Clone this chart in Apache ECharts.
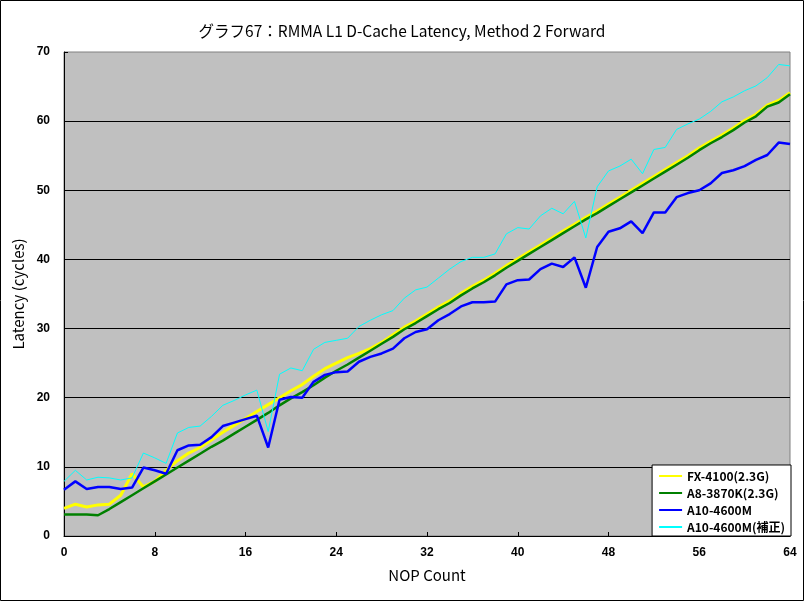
<!DOCTYPE html>
<html>
<head>
<meta charset="utf-8">
<script src="https://cdn.jsdelivr.net/npm/echarts@6/dist/echarts.min.js"></script>
<style>
html,body{margin:0;padding:0;background:#fff;}
#c{width:804px;height:601px;}
</style>
</head>
<body>
<div id="c"></div>
<script>
var titleText = 'グラフ67：RMMA L1 D-Cache Latency, Method 2 Forward';
var xName = 'NOP Count';
var yName = 'Latency (cycles)';
var seriesNames = ['FX-4100(2.3G)', 'A8-3870K(2.3G)', 'A10-4600M', 'A10-4600M(補正)'];
var categories = [];
for (var k = 0; k <= 64; k++) categories.push(String(k));

var fx4100 = [4.0,4.6,4.2,4.5,4.6,5.9,9.0,7.1,7.9,9.5,10.9,12.0,12.8,13.9,15.0,16.0,17.0,18.0,19.0,20.0,21.0,21.9,23.1,24.2,25.0,25.8,26.4,27.1,28.0,29.1,30.2,31.1,32.1,33.1,34.0,35.1,36.1,37.0,38.0,39.1,40.1,41.1,42.1,43.1,44.1,45.1,46.1,47.0,48.0,49.0,50.0,51.0,52.0,53.0,54.0,55.0,56.1,57.1,58.0,59.0,60.1,61.0,62.3,63.0,64.1];
var a83870k = [3.1,3.1,3.1,3.0,3.9,4.9,5.9,6.9,7.9,8.9,9.9,10.9,11.9,12.9,13.8,14.8,15.8,16.8,17.8,18.9,19.9,20.8,21.8,22.9,23.9,24.8,25.8,26.8,27.8,28.8,29.9,30.8,31.8,32.8,33.7,34.8,35.8,36.7,37.7,38.8,39.8,40.8,41.8,42.8,43.8,44.8,45.8,46.7,47.7,48.7,49.7,50.7,51.7,52.7,53.7,54.7,55.8,56.8,57.7,58.7,59.8,60.7,62.1,62.7,63.9];
var a104600m = [6.7,7.9,6.8,7.1,7.1,6.8,7.0,9.9,9.5,9.0,12.4,13.1,13.2,14.3,15.9,16.4,16.9,17.4,12.8,19.7,20.1,20.0,22.3,23.3,23.7,23.8,25.2,25.9,26.4,27.1,28.6,29.5,29.9,31.2,32.1,33.2,33.8,33.8,33.9,36.4,37.0,37.1,38.6,39.4,38.9,40.3,35.9,41.8,44.0,44.5,45.5,43.8,46.8,46.8,49.0,49.6,50.0,51.0,52.5,52.9,53.5,54.4,55.1,56.9,56.7];
var a104600mCorr = [7.9,9.5,8.1,8.5,8.4,8.1,8.4,12.0,11.3,10.5,14.9,15.7,15.9,17.3,18.9,19.6,20.4,21.1,15.1,23.4,24.3,23.9,27.0,28.0,28.3,28.6,30.3,31.2,32.0,32.6,34.4,35.6,36.0,37.3,38.6,39.7,40.3,40.3,40.8,43.7,44.6,44.4,46.3,47.4,46.6,48.4,43.1,50.5,52.8,53.5,54.5,52.4,55.9,56.2,58.8,59.6,60.3,61.4,62.8,63.5,64.4,65.1,66.3,68.2,68.0];
var colors = ['#ffff00', '#008000', '#0000ff', '#00ffff'];
var widths = [3, 2.5, 2.5, 1];
var allData = [fx4100, a83870k, a104600m, a104600mCorr];

var chart = echarts.init(document.getElementById('c'), null, {renderer: 'canvas'});
var labelFont = 'Liberation Sans Narrow, Liberation Sans, Arial';
var jpFont = 'Noto Sans CJK JP, sans-serif';

var series = seriesNames.map(function (n, i) {
  return {
    name: n, type: 'line', data: allData[i], showSymbol: false, symbol: 'none',
    lineStyle: {color: colors[i], width: widths[i]}, itemStyle: {color: colors[i]},
    animation: false, z: 2 + i
  };
});

chart.setOption({
  animation: false,
  color: colors,
  title: {
    text: titleText, left: 'center', top: 18,
    textStyle: {fontFamily: jpFont, fontSize: 15.5, fontWeight: 'normal', color: '#000'}
  },
  grid: {
    left: 64, right: 14, top: 52, bottom: 65, show: true,
    backgroundColor: '#c0c0c0', borderColor: '#808080', borderWidth: 1
  },
  legend: {
    orient: 'vertical', right: 13, bottom: 65, data: seriesNames.map(function (n, i) {
      return {name: n, itemStyle: {color: colors[i]}};
    }),
    icon: 'rect', itemWidth: 23, itemHeight: 2, itemGap: 5,
    backgroundColor: '#fff', borderColor: '#000', borderWidth: 1,
    padding: [5, 6, 3, 7],
    textStyle: {fontFamily: jpFont, fontSize: 12, color: '#000', fontWeight: 'bold'}
  },
  xAxis: {
    type: 'category', data: categories, boundaryGap: false,
    name: xName, nameLocation: 'middle', nameGap: 32,
    nameTextStyle: {fontFamily: jpFont, fontSize: 15, color: '#000'},
    axisLine: {lineStyle: {color: '#000', width: 1}},
    axisTick: {show: true, interval: 7, inside: true, length: 4, lineStyle: {color: '#000'}},
    axisLabel: {interval: 7, color: '#000', fontFamily: labelFont, fontWeight: 'bold', fontSize: 12, margin: 11},
    splitLine: {show: false}
  },
  yAxis: {
    type: 'value', min: 0, max: 70, interval: 10,
    name: yName, nameLocation: 'middle', nameGap: 36, nameRotate: 90,
    nameTextStyle: {fontFamily: jpFont, fontSize: 15, color: '#000'},
    axisLine: {show: true, lineStyle: {color: '#000', width: 1}},
    axisTick: {show: true, inside: true, length: 4, lineStyle: {color: '#000'}},
    axisLabel: {color: '#000', fontFamily: labelFont, fontWeight: 'bold', fontSize: 12, margin: 14},
    splitLine: {show: true, showMinLine: false, showMaxLine: false, lineStyle: {color: '#000', width: 1}}
  },
  graphic: [{
    type: 'rect', shape: {x: 0.5, y: 0.5, width: 803, height: 600},
    style: {fill: 'none', stroke: '#000', lineWidth: 1}, silent: true, z: 100
  }],
  series: series
});
</script>
</body>
</html>
